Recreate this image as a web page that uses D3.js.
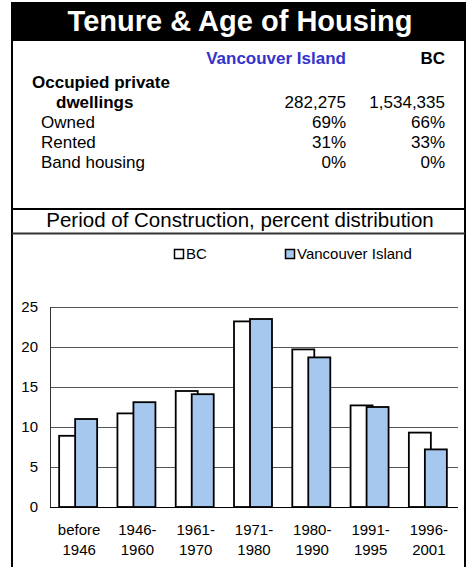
<!DOCTYPE html>
<html>
<head>
<meta charset="utf-8">
<script src="https://cdn.jsdelivr.net/npm/d3@7"></script>
<style>
  body { margin: 0; background: #fff; }
  svg { display: block; font-family: Arial, "Liberation Sans", sans-serif; }
</style>
</head>
<body>
<div id="chart"></div>
<script>
// table data
const tableColumns = ["Vancouver Island", "BC"];
const dwellings = ["282,275", "1,534,335"];
const tenureRows = ["Owned", "Rented", "Band housing"];
const tenureVI = ["69%", "31%", "0%"];
const tenureBC = ["66%", "33%", "0%"];

// chart data
const periods = [["before", "1946"], ["1946-", "1960"], ["1961-", "1970"], ["1971-", "1980"],
    ["1980-", "1990"], ["1991-", "1995"], ["1996-", "2001"]];
const bcValues = [8.9, 11.7, 14.5, 23.2, 19.7, 12.7, 9.3];
const viValues = [11.0, 13.1, 14.1, 23.5, 18.7, 12.5, 7.2];
const yTicks = [0, 5, 10, 15, 20, 25];

const W = 470, H = 567;
const svg = d3.select("#chart").append("svg")
    .attr("width", W)
    .attr("height", H);

// frame
svg.append("rect").attr("x", 11).attr("y", 2).attr("width", 455).attr("height", 38).attr("fill", "#000");
svg.append("rect").attr("x", 12).attr("y", 40).attr("width", 453).attr("height", 530)
    .attr("fill", "none").attr("stroke", "#000").attr("stroke-width", 2);
svg.append("line").attr("x1", 12).attr("x2", 465).attr("y1", 209).attr("y2", 209)
    .attr("stroke", "#000").attr("stroke-width", 2);
svg.append("line").attr("x1", 12).attr("x2", 465).attr("y1", 233.5).attr("y2", 233.5)
    .attr("stroke", "#333").attr("stroke-width", 2);

svg.append("text").attr("x", 240).attr("y", 31).attr("text-anchor", "middle")
    .attr("fill", "#fff").attr("font-weight", "bold").attr("font-size", 29)
    .text("Tenure & Age of Housing");

// table
const colX = [346, 445];
svg.selectAll(".colhead").data(tableColumns).enter().append("text")
    .attr("x", (d, i) => colX[i]).attr("y", 64)
    .attr("text-anchor", "end").attr("font-weight", "bold").attr("font-size", 17)
    .attr("fill", (d, i) => i === 0 ? "#3333cc" : "#000")
    .text(d => d);

svg.append("text").attr("x", 32).attr("y", 88).attr("font-weight", "bold").attr("font-size", 17)
    .text("Occupied private");
svg.append("text").attr("x", 56).attr("y", 108).attr("font-weight", "bold").attr("font-size", 17)
    .text("dwellings");
svg.selectAll(".dw").data(dwellings).enter().append("text")
    .attr("x", (d, i) => colX[i]).attr("y", 108).attr("text-anchor", "end").attr("font-size", 17)
    .text(d => d);

tenureRows.forEach((r, i) => {
    const y = 128 + i * 20;
    svg.append("text").attr("x", 41).attr("y", y).attr("font-size", 17).text(r);
    svg.append("text").attr("x", colX[0]).attr("y", y).attr("text-anchor", "end").attr("font-size", 17).text(tenureVI[i]);
    svg.append("text").attr("x", colX[1]).attr("y", y).attr("text-anchor", "end").attr("font-size", 17).text(tenureBC[i]);
});

svg.append("text").attr("x", 240).attr("y", 227).attr("text-anchor", "middle").attr("font-size", 20.5)
    .text("Period of Construction, percent distribution");

// legend
const legend = [{ name: "BC", fill: "#fff", x: 174 }, { name: "Vancouver Island", fill: "#a6c8ee", x: 285 }];
const lg = svg.selectAll(".lg").data(legend).enter().append("g");
lg.append("rect").attr("x", d => d.x + 0.5).attr("y", 249.5).attr("width", 9).attr("height", 9)
    .attr("fill", d => d.fill).attr("stroke", "#000").attr("stroke-width", 1.5);
lg.append("text").attr("x", d => d.x + 12).attr("y", 259).attr("font-size", 15).text(d => d.name);

// chart
const x = d3.scaleBand().domain(d3.range(periods.length)).range([50, 458]);
const y = d3.scaleLinear().domain([0, 25]).range([507, 307]);

svg.selectAll(".grid").data(yTicks.filter(t => t > 0)).enter().append("line")
    .attr("x1", 50).attr("x2", 458)
    .attr("y1", d => Math.round(y(d)) + 0.5).attr("y2", d => Math.round(y(d)) + 0.5)
    .attr("stroke", "#555").attr("stroke-width", 1);

svg.selectAll(".ytick").data(yTicks).enter().append("text")
    .attr("x", 38).attr("y", d => y(d) + 5).attr("text-anchor", "end").attr("font-size", 15)
    .text(d => d);

svg.append("line").attr("x1", 50.5).attr("x2", 50.5).attr("y1", y(25)).attr("y2", y(0))
    .attr("stroke", "#333").attr("stroke-width", 1);

const center = i => x(i) + x.bandwidth() / 2;
const barW = 22;

svg.selectAll(".bc").data(bcValues).enter().append("rect")
    .attr("x", (d, i) => center(i) - 20).attr("y", d => y(d))
    .attr("width", barW).attr("height", d => y(0) - y(d))
    .attr("fill", "#fff").attr("stroke", "#000").attr("stroke-width", 1.8);

svg.selectAll(".vi").data(viValues).enter().append("rect")
    .attr("x", (d, i) => center(i) - 4).attr("y", d => y(d))
    .attr("width", barW).attr("height", d => y(0) - y(d))
    .attr("fill", "#a6c8ee").attr("stroke", "#000").attr("stroke-width", 1.8);

svg.append("line").attr("x1", 50).attr("x2", 458).attr("y1", y(0) + 0.5).attr("y2", y(0) + 0.5)
    .attr("stroke", "#000").attr("stroke-width", 1);

const xl = svg.selectAll(".xl").data(periods).enter().append("text")
    .attr("text-anchor", "middle").attr("font-size", 15);
xl.append("tspan").attr("x", (d, i) => center(i)).attr("y", 535).text(d => d[0]);
xl.append("tspan").attr("x", (d, i) => center(i)).attr("y", 555).text(d => d[1]);
</script>
</body>
</html>
